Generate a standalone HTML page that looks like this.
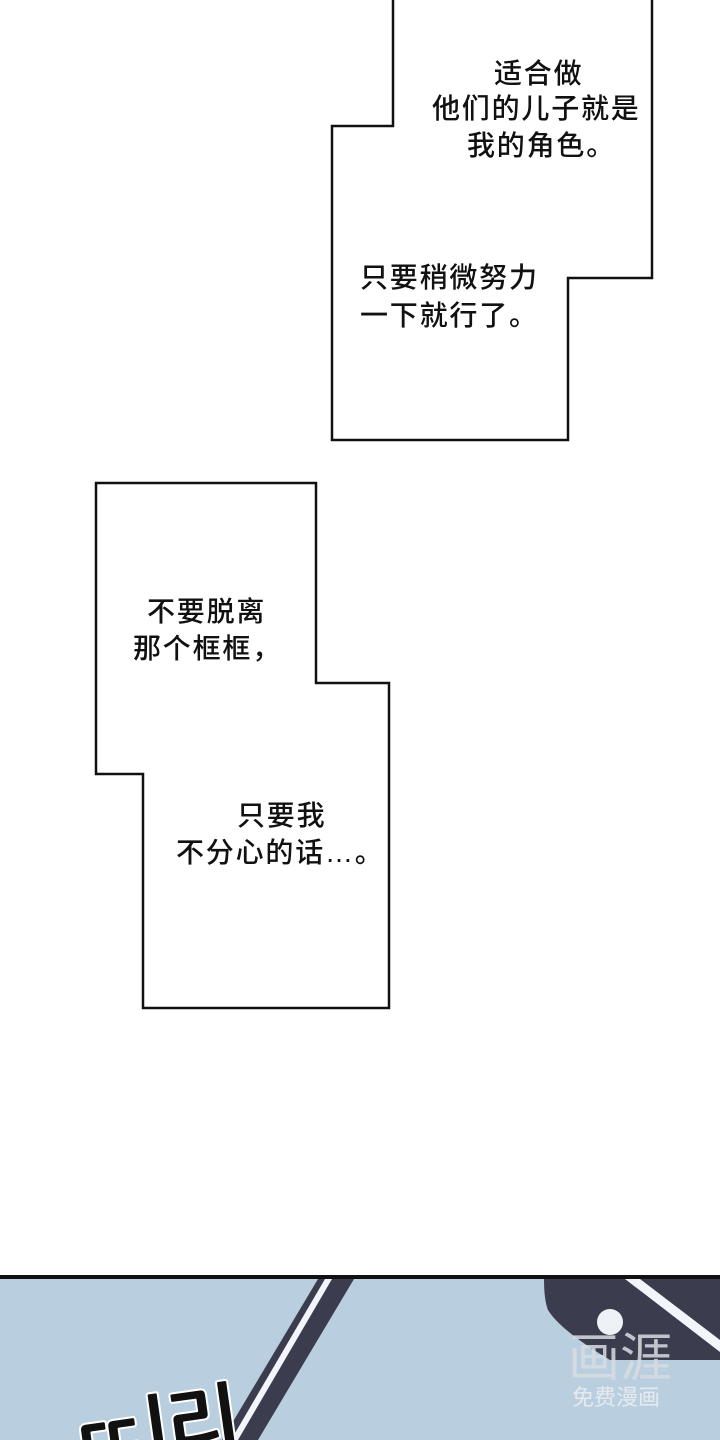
<!DOCTYPE html>
<html><head><meta charset="utf-8"><style>
body{margin:0;width:720px;height:1440px;background:#fff;position:relative;overflow:hidden;font-family:"Liberation Sans","Noto Sans CJK SC",sans-serif;}
.t{position:absolute;font-size:28px;letter-spacing:1.8px;font-weight:500;color:#111;line-height:37px;white-space:nowrap;}
</style></head><body>
<svg width="720" height="1440" style="position:absolute;left:0;top:0">
<polygon points="393,-5 652,-5 652,278 568,278 568,440 332,440 332,126 393,126" fill="#fff" stroke="#111" stroke-width="2.5"/>
<polygon points="96,483 316,483 316,683 389,683 389,1008 143,1008 143,774 96,774" fill="#fff" stroke="#111" stroke-width="2.5"/>
<rect x="0" y="1278" width="720" height="162" fill="#b9cfe0"/>
<rect x="0" y="1275" width="720" height="4" fill="#111"/>
<polygon points="318,1279 354,1279 258,1440 222,1440" fill="#3b3d4e"/>
<polygon points="325,1279 332,1279 238,1440 231,1440" fill="#f2f6fa"/>
<path d="M544,1279 L720,1279 L720,1360 L610,1360 Q560,1330 548,1310 Q544,1300 544,1279Z" fill="#3b3d4e"/>
<polygon points="625,1279 640,1279 720,1340 720,1352" fill="#f2f6fa"/>
<circle cx="610" cy="1322" r="13" fill="#eef2f6"/>
<text x="568" y="1376" font-size="52" fill="#d8dde2" opacity="0.85" font-family="Noto Sans CJK SC, sans-serif">画涯</text>
<text x="572" y="1405" font-size="22" fill="#e6eaee" font-family="Noto Sans CJK SC, sans-serif">免费漫画</text>
<text x="70" y="1462" font-size="80" font-weight="bold" fill="#111" stroke="#fff" stroke-width="4" paint-order="stroke" font-family="NanumGothic, sans-serif" transform="rotate(-8 130 1420)">ㄸ|리</text>
</svg>
<div class="t" style="left:494px;top:55px">适合做</div>
<div class="t" style="left:432px;top:90px">他们的儿子就是</div>
<div class="t" style="left:467px;top:127px">我的角色。</div>
<div class="t" style="left:360px;top:259px">只要稍微努力</div>
<div class="t" style="left:360px;top:297px">一下就行了。</div>
<div class="t" style="left:147px;top:593px">不要脱离</div>
<div class="t" style="left:133px;top:630px">那个框框，</div>
<div class="t" style="left:237px;top:797px">只要我</div>
<div class="t" style="left:176px;top:834px">不分心的话…。</div>
</body></html>
